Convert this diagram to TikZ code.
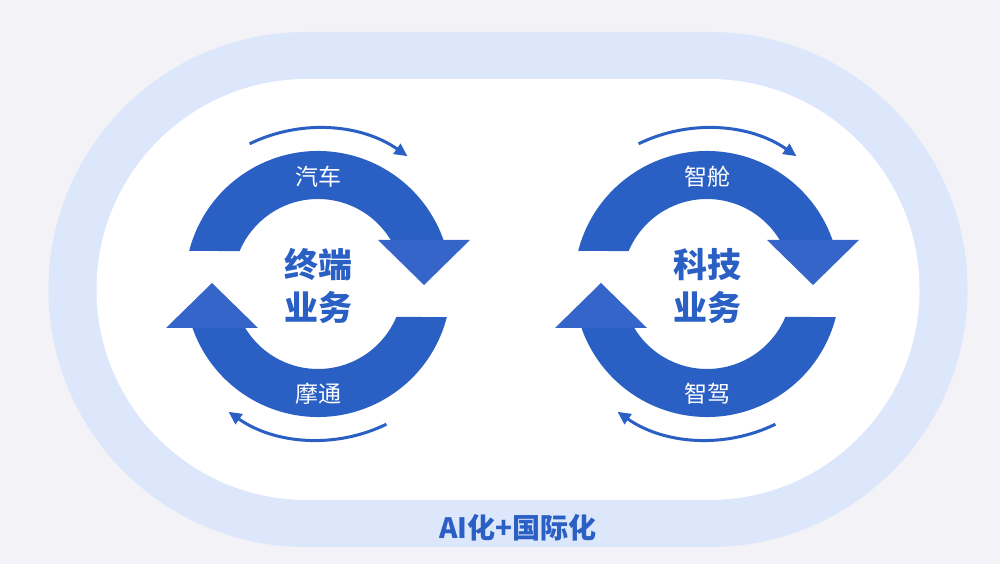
\documentclass[tikz,border=0pt]{standalone}
\usepackage{fontspec}
\newfontfamily\cjk{Noto Sans CJK SC}
\usetikzlibrary{arrows.meta}
\definecolor{fond}{HTML}{F2F2F7}
\definecolor{bande}{HTML}{DCE7FC}
\definecolor{bleu}{HTML}{2A5FC4}
\definecolor{bleuclair}{HTML}{3565C8}
\begin{document}
\begin{tikzpicture}[x=1pt,y=1pt]
 % definition des styles
  \tikzstyle{anneau}=[fill=bleu]
  \tikzstyle{pointe}=[fill=bleuclair]
  \tikzstyle{tourne}=[-{Triangle[length=13pt,width=12pt]},line width=3pt,draw=bleu]
  \tikzstyle{etiquette}=[text=white,font=\cjk\fontsize{23}{23}\selectfont]
  \tikzstyle{centre}=[text=bleu,align=center,font=\cjk\bfseries\fontsize{34}{43}\selectfont]
 % le fond
  \useasboundingbox (0,0) rectangle (1000,564);
  \fill[fond] (0,0) rectangle (1000,564);
  \fill[bande] (306,17) arc[start angle=-90,end angle=-270,radius=257.5] -- (710,532)
    arc[start angle=90,end angle=-90,radius=257.5] -- cycle;
  \fill[white] (307,64) arc[start angle=-90,end angle=-270,radius=210.5] -- (709,485)
    arc[start angle=90,end angle=-90,radius=210.5] -- cycle;
 % les cycles
  \foreach \cx in {318,707}{
   \foreach \rot in {0,180}{
    \begin{scope}[shift={(\cx,280)},rotate=\rot]
      \fill[anneau] (165.6:133) arc[start angle=165.6,end angle=19.3,radius=133]
        -- (31.2:85) arc[start angle=31.2,end angle=157.2,radius=85] -- cycle;
      \fill[pointe] (60,44) -- (152,44) -- (106,-1) -- cycle;
      \draw[tourne] (116:156) arc[start angle=116,end angle=55,radius=156];
    \end{scope}}}
 % les textes
  \node[etiquette] (auto) at (318,387) {汽车};
  \node[etiquette] (moto) at (318,170) {摩通};
  \node[centre] (term) at (318,278) {终端\\业务};
  \node[etiquette] (cabine) at (707,387) {智舱};
  \node[etiquette] (conduite) at (707,170) {智驾};
  \node[centre] (tech) at (707,278) {科技\\业务};
 % la legende
  \node[text=bleu,font=\cjk\bfseries\fontsize{28}{28}\selectfont] (ai) at (518,36) {AI化+国际化};
\end{tikzpicture}
\end{document}
